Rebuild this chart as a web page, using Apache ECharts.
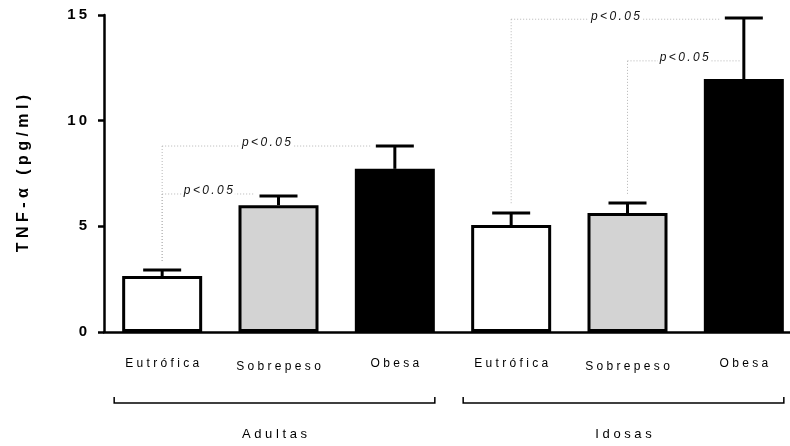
<!DOCTYPE html>
<html>
<head>
<meta charset="utf-8">
<script src="https://cdn.jsdelivr.net/npm/echarts@6/dist/echarts.min.js"></script>
<style>
    html, body { margin: 0; padding: 0; background: #fff; }
    #chart { width: 790px; height: 446px; }
</style>
</head>
<body>
<div id="chart"></div>
<script>
// dados
var categories = ['Eutrófica', 'Sobrepeso', 'Obesa', 'Eutrófica', 'Sobrepeso', 'Obesa'];
var groups = ['Adultas', 'Idosas'];
var groupRanges = [[0, 2], [3, 5]];
var means = [2.65, 6.0, 7.72, 5.06, 5.63, 11.97];
var sems = [0.28, 0.43, 1.08, 0.57, 0.47, 2.89];
var yTicks = [0, 5, 10, 15];
// comparações: [de, até, nível]
var comparisons = [[0, 1, 6.53], [0, 2, 8.8], [3, 5, 14.8], [4, 5, 12.83]];
var pLabel = 'p<0.05';
var yName = 'TNF-α (pg/ml)';

var fills = ['#ffffff', '#d3d3d3', '#000000', '#ffffff', '#d3d3d3', '#000000'];
var FONT = 'Liberation Sans, Arial, sans-serif';

// espaçamento entre letras (estilo Prism)
function spaced(s, sep) {
    return s.split('').join(sep || '\u2009');
}

var chart = echarts.init(document.getElementById('chart'));

var barData = means.map(function (v, i) {
    return {
        value: v,
        itemStyle: { color: fills[i], borderColor: '#000', borderWidth: 3 }
    };
});

var errData = means.map(function (v, i) { return [i, v, sems[i]]; });

var compData = comparisons.map(function (c) {
    return [c[0], c[2], c[1], means[c[0]] + sems[c[0]], means[c[1]] + sems[c[1]]];
});

var groupData = groupRanges.map(function (r, i) { return [r[0], 0, r[1], i]; });

var option = {
    animation: false,
    grid: { left: 104, top: 15, bottom: 114, width: 698, containLabel: false, outerBoundsMode: 'none' },
    xAxis: {
        type: 'category',
        data: categories.map(function (c) {
            return {
                value: c,
                textStyle: { padding: c === 'Sobrepeso' ? [3, 0, 0, 0] : 0 }
            };
        }),
        axisLine: { lineStyle: { color: '#000', width: 2.5 } },
        axisTick: { alignWithLabel: true, length: 6, lineStyle: { color: '#000', width: 2 } },
        axisLabel: {
            margin: 26,
            color: '#000',
            fontFamily: FONT,
            fontSize: 12,
            interval: 0,
            formatter: function (v) { return spaced(v, ' '); }
        }
    },
    yAxis: {
        type: 'value',
        min: yTicks[0],
        max: yTicks[yTicks.length - 1],
        interval: yTicks[1] - yTicks[0],
        splitLine: { show: false },
        axisLine: { show: true, lineStyle: { color: '#000', width: 2.5 } },
        axisTick: { show: true, length: 6, lineStyle: { color: '#000', width: 2.5 } },
        axisLabel: {
            margin: 17,
            color: '#000',
            fontFamily: FONT,
            fontSize: 15,
            fontWeight: 'bold',
            formatter: function (v) { return spaced(String(v)); }
        },
        name: spaced(yName, ' '),
        nameLocation: 'middle',
        nameRotate: 90,
        nameGap: 72,
        nameTextStyle: { color: '#000', fontFamily: FONT, fontSize: 16, fontWeight: 'bold' }
    },
    series: [{
        type: 'bar',
        data: barData,
        barWidth: 80,
        z: 2
    }, {
        // barras de erro (EPM)
        type: 'custom',
        z: 3,
        clip: false,
        data: errData,
        renderItem: function (params, api) {
            var base = api.coord([api.value(0), api.value(1)]);
            var top = api.coord([api.value(0), api.value(1) + api.value(2)]);
            var st = { stroke: '#000', lineWidth: 3 };
            return {
                type: 'group',
                children: [
                    { type: 'line', shape: { x1: base[0], y1: base[1], x2: top[0], y2: top[1] }, style: st },
                    { type: 'line', shape: { x1: top[0] - 19, y1: top[1], x2: top[0] + 19, y2: top[1] }, style: st }
                ]
            };
        }
    }, {
        // comparações estatísticas
        type: 'custom',
        z: 4,
        clip: false,
        data: compData,
        renderItem: function (params, api) {
            var from = api.coord([api.value(0), api.value(1)]);
            var to = api.coord([api.value(2), api.value(1)]);
            var base = api.coord([api.value(0), api.value(3)]);
            var endTop = api.value(4);
            var xEnd = endTop > api.value(1) + 0.3 ? to[0] - 3 : to[0] - 24;
            var st = { stroke: '#b5b5b5', lineWidth: 1, lineDash: [1, 2], fill: 'none' };
            return {
                type: 'group',
                children: [
                    { type: 'line', shape: { x1: from[0], y1: from[1], x2: xEnd, y2: from[1] }, style: st },
                    { type: 'line', shape: { x1: from[0], y1: from[1], x2: from[0], y2: base[1] - 8 }, style: st },
                    {
                        type: 'text',
                        style: {
                            x: (from[0] + xEnd) / 2,
                            y: from[1] - 3,
                            text: spaced(pLabel),
                            align: 'center',
                            verticalAlign: 'middle',
                            fill: '#111',
                            font: 'italic 12px ' + FONT,
                            backgroundColor: '#fff',
                            padding: [0, 2]
                        }
                    }
                ]
            };
        }
    }, {
        // chaves dos grupos
        type: 'custom',
        z: 4,
        clip: false,
        data: groupData,
        renderItem: function (params, api) {
            var a = api.coord([api.value(0), 0]);
            var b = api.coord([api.value(2), 0]);
            var x1 = a[0] - 48, x2 = b[0] + 40;
            var y = a[1] + 71;
            var st = { stroke: '#000', lineWidth: 1.5, fill: 'none' };
            return {
                type: 'group',
                children: [
                    { type: 'polyline', shape: { points: [[x1, y - 6], [x1, y], [x2, y], [x2, y - 6]] }, style: st },
                    {
                        type: 'text',
                        style: {
                            x: (x1 + x2) / 2,
                            y: y + 31,
                            text: spaced(groups[api.value(3)], ' '),
                            align: 'center',
                            verticalAlign: 'middle',
                            fill: '#000',
                            font: '13px ' + FONT
                        }
                    }
                ]
            };
        }
    }]
};

chart.setOption(option);
</script>
</body>
</html>
